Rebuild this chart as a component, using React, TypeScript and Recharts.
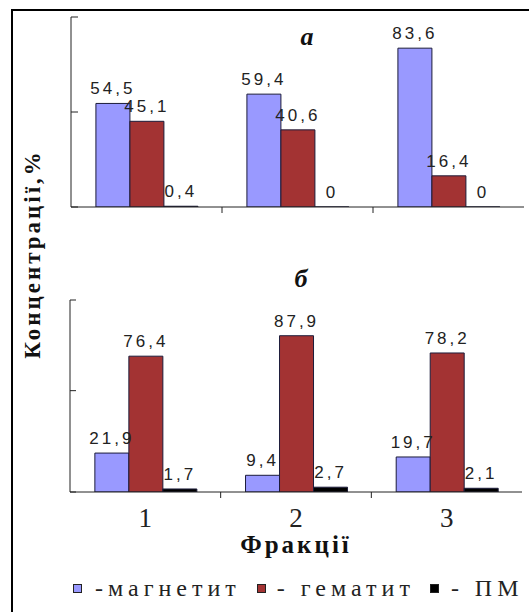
import { BarChart, Bar, XAxis, YAxis, LabelList, Label, Legend } from "recharts";

const fractions = ["1", "2", "3"];
const seriesNames = ["-магнетит", "- гематит", "- ПМ"];

// а: upper panel
const topMagnetite = [54.5, 59.4, 83.6];
const topHematite = [45.1, 40.6, 16.4];
const topPm = [0.4, 0, 0];

// б: lower panel
const bottomMagnetite = [21.9, 9.4, 19.7];
const bottomHematite = [76.4, 87.9, 78.2];
const bottomPm = [1.7, 2.7, 2.1];

const topYTicks = [0, 50, 100];
const bottomYTicks = [0, 57, 108];

const COLORS = ["#9999ff", "#a33333", "#000000"];
const SERIF = "'Liberation Serif', 'Times New Roman', serif";
const SANS = "'Liberation Sans', Arial, sans-serif";

const CHART_W = 529;
const TOP_MARGIN = { top: 17, right: 5, bottom: 13, left: 71 };
const BOTTOM_MARGIN = { top: 10, right: 7, bottom: 52, left: 70 };

const fmt = (v: any) => String(v).replace(".", ",");

const buildRows = (m: number[], h: number[], p: number[]) =>
  fractions.map((f, i) => ({ fraction: f, magnetite: m[i], hematite: h[i], pm: p[i] }));

const topData = buildRows(topMagnetite, topHematite, topPm);
const bottomData = buildRows(bottomMagnetite, bottomHematite, bottomPm);

// category tick: label at band centre, short tick mark on the border between bands
function CatTick(props: any) {
  const { x, y, payload, index, band, showLabels } = props;
  const last = index === fractions.length - 1;
  return (
    <g>
      {!last && (
        <line x1={x + band / 2} x2={x + band / 2} y1={y} y2={y + 6} stroke="#222" strokeWidth={1} />
      )}
      {showLabels && (
        <text x={x} y={y + 35} textAnchor="middle" fontFamily={SERIF} fontSize={27} fill="#222">
          {payload.value}
        </text>
      )}
    </g>
  );
}

function LegendRow() {
  const gaps = [0, 16, 15];
  const pads = [13, 11, 12];
  return (
    <div
      style={{
        display: "flex",
        alignItems: "center",
        fontFamily: SERIF,
        fontSize: 24,
        letterSpacing: 5,
        lineHeight: "26px",
        color: "#222",
        whiteSpace: "nowrap",
      }}
    >
      {seriesNames.map((name, i) => (
        <div key={name} style={{ display: "flex", alignItems: "center", marginLeft: gaps[i] }}>
          <span
            style={{
              width: 9,
              height: 9,
              boxSizing: "border-box",
              border: "1px solid #222",
              background: COLORS[i],
              marginRight: pads[i],
              display: "inline-block",
            }}
          />
          <span>{name}</span>
        </div>
      ))}
    </div>
  );
}

// zero values still need a (flat) bar so that their "0" label is drawn
const keepZero = (v: any) => (v === 0 ? 0.01 : 0);

function bars() {
  const keys = ["magnetite", "hematite", "pm"];
  return keys.map((k, i) => (
    <Bar
      key={k}
      dataKey={k}
      name={seriesNames[i]}
      fill={COLORS[i]}
      stroke="#1c1c3a"
      strokeWidth={1}
      minPointSize={keepZero}
      isAnimationActive={false}
    >
      <LabelList
        dataKey={k}
        position="top"
        offset={9}
        formatter={fmt}
        fontFamily={SANS}
        fontSize={17}
        fill="#222"
        letterSpacing={3}
      />
    </Bar>
  ));
}

export default function App() {
  const topBand = (CHART_W - TOP_MARGIN.left - TOP_MARGIN.right) / fractions.length;
  const bottomBand = (CHART_W - BOTTOM_MARGIN.left - BOTTOM_MARGIN.right) / fractions.length;
  return (
    <div
      style={{
        position: "absolute",
        left: 0,
        top: 0,
        width: 529,
        height: 612,
        overflow: "hidden",
        background: "#fff",
      }}
    >
      <div
        style={{
          position: "absolute",
          left: 11,
          top: 9,
          width: 600,
          height: 700,
          borderTop: "2px solid #000",
          borderLeft: "2px solid #000",
        }}
      />

      <div style={{ position: "absolute", left: 0, top: 0 }}>
        <BarChart
          width={CHART_W}
          height={230}
          data={topData}
          margin={TOP_MARGIN}
          barCategoryGap="16.5%"
          barGap={0}
        >
          <XAxis
            dataKey="fraction"
            interval={0}
            height={10}
            tickSize={0}
            tickMargin={0}
            tickLine={false}
            axisLine={{ stroke: "#222" }}
            tick={(p: any) => <CatTick {...p} band={topBand} showLabels={false} />}
          />
          <YAxis
            domain={[0, 100]}
            ticks={topYTicks}
            allowDataOverflow
            mirror
            tickSize={7}
            tickFormatter={() => ""}
            axisLine={{ stroke: "#222" }}
            tickLine={{ stroke: "#222" }}
          />
          {bars()}
        </BarChart>
      </div>

      <div style={{ position: "absolute", left: 0, top: 290 }}>
        <BarChart
          width={CHART_W}
          height={322}
          data={bottomData}
          margin={BOTTOM_MARGIN}
          barCategoryGap="16.5%"
          barGap={0}
        >
          <XAxis
            dataKey="fraction"
            interval={0}
            height={68}
            tickSize={0}
            tickMargin={0}
            tickLine={false}
            axisLine={{ stroke: "#222" }}
            tick={(p: any) => <CatTick {...p} band={bottomBand} showLabels />}
          >
            <Label
              value="Фракції"
              position="insideBottom"
              offset={7}
              fontFamily={SERIF}
              fontWeight="bold"
              fontSize={25}
              letterSpacing={3}
              fill="#111"
            />
          </XAxis>
          <YAxis
            domain={[0, 108]}
            ticks={bottomYTicks}
            allowDataOverflow
            mirror
            tickSize={6}
            tickFormatter={() => ""}
            axisLine={{ stroke: "#222" }}
            tickLine={{ stroke: "#222" }}
          />
          {bars()}
          <Legend
            verticalAlign="middle"
            align="center"
            layout="horizontal"
            wrapperStyle={{ top: 285, left: 73, width: 450 }}
            content={() => <LegendRow />}
          />
        </BarChart>
      </div>

      <div
        style={{
          position: "absolute",
          left: 307,
          top: 24,
          transform: "translateX(-50%)",
          fontFamily: SERIF,
          fontStyle: "italic",
          fontWeight: "bold",
          fontSize: 26,
          lineHeight: "26px",
          color: "#111",
        }}
      >
        а
      </div>
      <div
        style={{
          position: "absolute",
          left: 301,
          top: 266,
          transform: "translateX(-50%)",
          fontFamily: SERIF,
          fontStyle: "italic",
          fontWeight: "bold",
          fontSize: 26,
          lineHeight: "26px",
          color: "#111",
        }}
      >
        б
      </div>
      <div
        style={{
          position: "absolute",
          left: 33,
          top: 254,
          transform: "translate(-50%, -50%) rotate(-90deg)",
          fontFamily: SERIF,
          fontWeight: "bold",
          fontSize: 23,
          letterSpacing: 3,
          lineHeight: "26px",
          whiteSpace: "nowrap",
          color: "#111",
        }}
      >
        Концентрації,%
      </div>
    </div>
  );
}
